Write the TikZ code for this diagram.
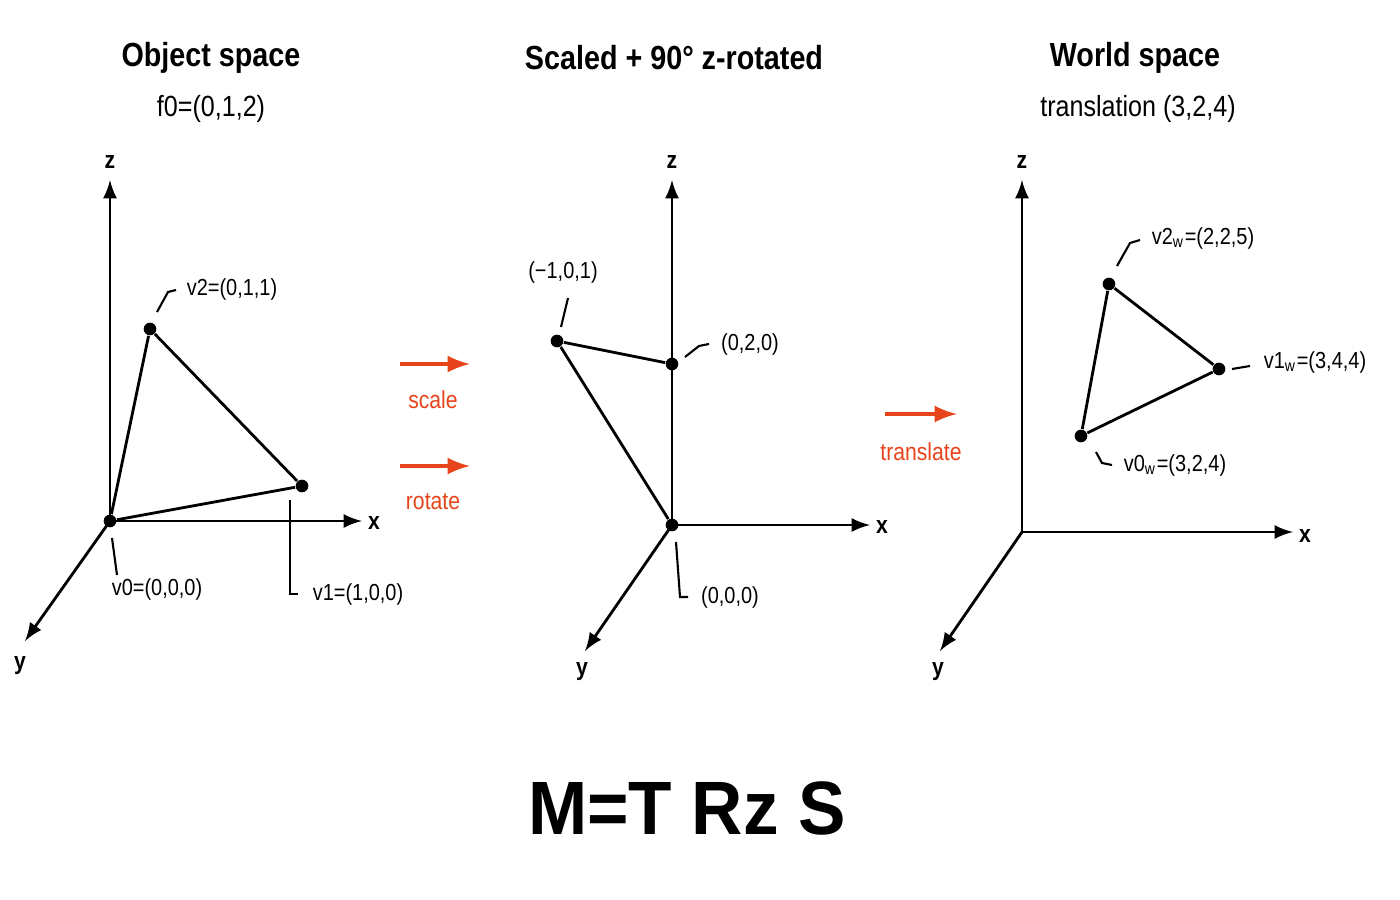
\documentclass[tikz,border=0pt]{standalone}
\usepackage{fontspec}
\setmainfont{Liberation Sans}[FakeStretch=0.86]
\newfontfamily\wideface{Liberation Sans}[FakeStretch=0.94]
\definecolor{opred}{HTML}{E8441C}
\begin{document}
\begin{tikzpicture}[x=0.01cm,y=-0.01cm,
    axis/.style={thick,-latex},
    edge/.style={thick},
    dot/.style={circle,fill=black,inner sep=0pt,minimum size=3.6pt},
    lbl/.style={font=\fontsize{6.6}{7}\selectfont},
    ttl/.style={font=\fontsize{9.5}{10}\selectfont\bfseries},
    sub/.style={font=\fontsize{8.3}{9}\selectfont},
    ax/.style={font=\fontsize{7}{8}\selectfont\bfseries},
    lead/.style={semithick},
    op/.style={line width=1.2pt,-latex,opred},
    opl/.style={font=\fontsize{7}{8}\selectfont,text=opred}]
  \useasboundingbox (0,0) rectangle (1400,900);

  % object space
  \node[ttl] (t1) at (211,58) {Object space};
  \node[sub] (s1) at (211,109) {f0=(0,1,2)};
  \coordinate (o1) at (110,521);
  \node[ax] (z1) at (110,162) {z};
  \node[ax] (x1) at (374,523) {x};
  \node[ax] (y1) at (20,666) {y};
  \draw[axis] (o1) -- (110,180);
  \draw[axis] (o1) -- (362,521);
  \draw[axis] (o1) -- (25,641);
  \node[dot] (a0) at (o1) {};
  \node[dot] (a1) at (302,486) {};
  \node[dot] (a2) at (150,329) {};
  \draw[edge] (a0) -- (a1) -- (a2) -- (a0);
  \node[lbl] (la2) at (232,289) {v2=(0,1,1)};
  \node[lbl] (la0) at (157,589) {v0=(0,0,0)};
  \node[lbl] (la1) at (358,594) {v1=(1,0,0)};
  \draw[lead] (157,312) -- (168,292) -- (176,290);
  \draw[lead] (112,538) -- (117,575);
  \draw[lead] (290,500) -- (290,594) -- (298,594);

  % scaled and rotated
  \node[ttl] (t2) at (674,58) {Scaled + 90\textdegree\ z-rotated};
  \coordinate (o2) at (672,525);
  \node[ax] (z2) at (672,162) {z};
  \node[ax] (x2) at (882,527) {x};
  \node[ax] (y2) at (582,672) {y};
  \draw[axis] (o2) -- (672,180);
  \draw[axis] (o2) -- (870,525);
  \draw[axis] (o2) -- (585,651);
  \node[dot] (b0) at (o2) {};
  \node[dot] (b1) at (672,364) {};
  \node[dot] (b2) at (557,341) {};
  \draw[edge] (b0) -- (b2) -- (b1);
  \node[lbl] (lb2) at (563,272) {(\textminus1,0,1)};
  \node[lbl] (lb1) at (750,344) {(0,2,0)};
  \node[lbl] (lb0) at (730,597) {(0,0,0)};
  \draw[lead] (561,327) -- (568,298);
  \draw[lead] (685,357) -- (699,346) -- (709,344);
  \draw[lead] (676,542) -- (680,597) -- (688,597);

  % world space
  \node[ttl] (t3) at (1135,58) {World space};
  \node[sub] (s3) at (1138,109) {translation (3,2,4)};
  \coordinate (o3) at (1022,532);
  \node[ax] (z3) at (1022,162) {z};
  \node[ax] (x3) at (1305,536) {x};
  \node[ax] (y3) at (938,672) {y};
  \draw[axis] (o3) -- (1022,180);
  \draw[axis] (o3) -- (1293,532);
  \draw[axis] (o3) -- (940,651);
  \node[dot] (c0) at (1081,436) {};
  \node[dot] (c1) at (1219,369) {};
  \node[dot] (c2) at (1109,284) {};
  \draw[edge] (c0) -- (c1) -- (c2) -- (c0);
  \node[lbl] (lc2) at (1203,238) {v2\textsubscript{w}=(2,2,5)};
  \node[lbl] (lc1) at (1315,362) {v1\textsubscript{w}=(3,4,4)};
  \node[lbl] (lc0) at (1175,465) {v0\textsubscript{w}=(3,2,4)};
  \draw[lead] (1117,266) -- (1130,243) -- (1140,240);
  \draw[lead] (1232,369) -- (1250,366);
  \draw[lead] (1096,452) -- (1102,463) -- (1112,465);

  % operations
  \draw[op] (400,364) -- (470,364);
  \node[opl] (ls) at (433,400) {scale};
  \draw[op] (400,466) -- (470,466);
  \node[opl] (lr) at (433,502) {rotate};
  \draw[op] (885,414) -- (957,414);
  \node[opl] (lt) at (921,452) {translate};

  \node[font=\fontsize{21.5}{24}\wideface\bfseries] (m) at (687,808) {M=T Rz S};
\end{tikzpicture}
\end{document}
